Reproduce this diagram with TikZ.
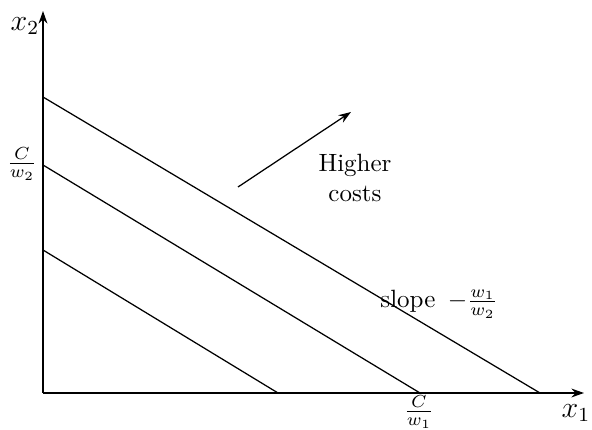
\documentclass[tikz,border=0pt]{standalone}
\usetikzlibrary{arrows.meta}
\begin{document}
\begin{tikzpicture}[x=0.4pt,y=-0.4pt,
  axis/.style={line width=1.1pt,-{Stealth[length=5pt,width=3.5pt]}},
  iso/.style={line width=0.5pt},
  lbl/.style={inner sep=0pt}]
\useasboundingbox (0,0) rectangle (592,430);
\coordinate (O) at (43,393);
\coordinate (xend) at (584,393);
\coordinate (yend) at (43,11);
\draw[axis] (O) -- (xend);
\draw[axis] (O) -- (yend);
% isocost lines
\coordinate (a1) at (43,97);  \coordinate (b1) at (540,393);
\coordinate (a2) at (43,165); \coordinate (b2) at (420,393);
\coordinate (a3) at (43,250); \coordinate (b3) at (278,393);
\draw[iso] (a1) -- (b1);
\draw[iso] (a2) -- (b2);
\draw[iso] (a3) -- (b3);
% arrow
\coordinate (p) at (238,187);
\coordinate (q) at (351,112);
\draw[line width=0.5pt,-{Stealth[length=5pt,width=3.5pt]}] (p) -- (q);
% labels
\node[lbl] (lx2) at (25,26) {\large$x_2$};
\node[lbl] (lx1) at (576,413) {\large$x_1$};
\node[lbl] (cw2) at (22,164) {$\frac{C}{w_2}$};
\node[lbl] (cw1) at (419,412) {$\frac{C}{w_1}$};
\node[lbl,align=center] (hc) at (355,178) {Higher\\costs};
\node[lbl] (sl) at (439,304) {slope $\,-\frac{w_1}{w_2}$};
\end{tikzpicture}
\end{document}
